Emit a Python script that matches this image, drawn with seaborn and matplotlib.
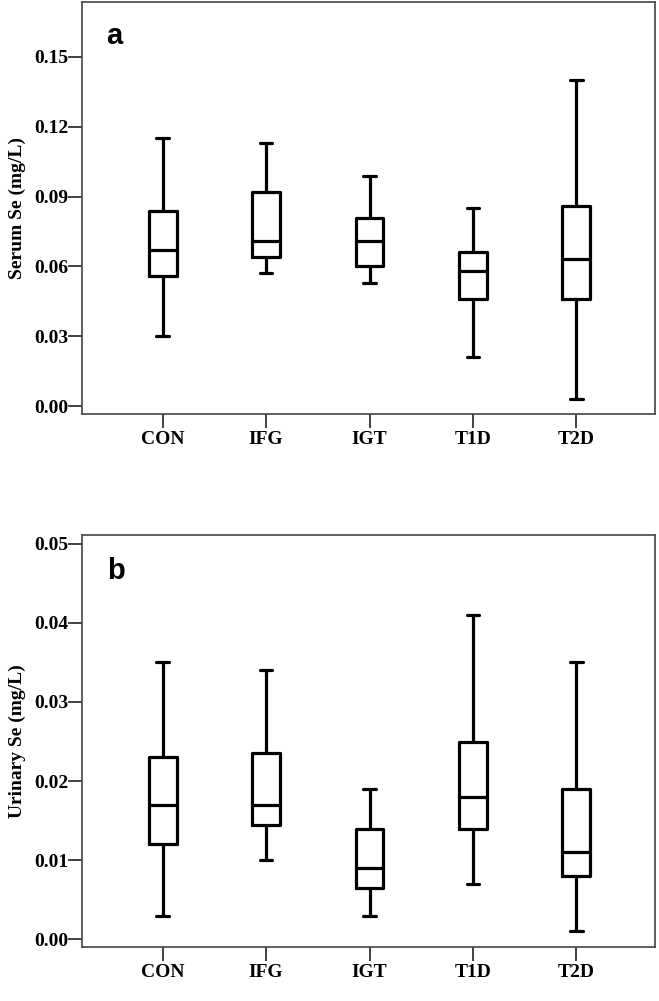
import numpy as np
import pandas as pd
import matplotlib
matplotlib.use("Agg")
import matplotlib.pyplot as plt
import seaborn as sns

groups = ["CON", "IFG", "IGT", "T1D", "T2D"]

# five-number summaries: min, Q1, median, Q3, max
serum_min = [0.030, 0.057, 0.053, 0.021, 0.003]
serum_q1 = [0.056, 0.064, 0.060, 0.046, 0.046]
serum_med = [0.067, 0.071, 0.071, 0.058, 0.063]
serum_q3 = [0.084, 0.092, 0.081, 0.066, 0.086]
serum_max = [0.115, 0.113, 0.099, 0.085, 0.140]

urine_min = [0.003, 0.010, 0.003, 0.007, 0.001]
urine_q1 = [0.012, 0.0145, 0.0065, 0.014, 0.008]
urine_med = [0.017, 0.017, 0.009, 0.018, 0.011]
urine_q3 = [0.023, 0.0235, 0.014, 0.025, 0.019]
urine_max = [0.035, 0.034, 0.019, 0.041, 0.035]

serum_ticks = [0.00, 0.03, 0.06, 0.09, 0.12, 0.15]
urine_ticks = [0.00, 0.01, 0.02, 0.03, 0.04, 0.05]


def summary_frame(mins, q1s, meds, q3s, maxs):
    # five points per group reproduce the quartiles exactly
    rows = []
    for g, a, b, c, d, e in zip(groups, mins, q1s, meds, q3s, maxs):
        for v in (a, b, c, d, e):
            rows.append({"group": g, "value": v})
    return pd.DataFrame(rows)


sns.set_style("white")
plt.rcParams["font.family"] = ["Liberation Serif", "DejaVu Serif"]

fig = plt.figure(figsize=(6.59, 10.01), dpi=100)
ax_a = fig.add_axes([0.1244, 0.5864, 0.8695, 0.4116])
ax_b = fig.add_axes([0.1244, 0.0539, 0.8695, 0.4116])

panels = [
    (ax_a, summary_frame(serum_min, serum_q1, serum_med, serum_q3, serum_max),
     "Serum Se (mg/L)", serum_ticks, (-0.00344, 0.1736), "a", 0.917),
    (ax_b, summary_frame(urine_min, urine_q1, urine_med, urine_q3, urine_max),
     "Urinary Se (mg/L)", urine_ticks, (-0.00097, 0.0511), "b", 0.913),
]

line = dict(color="black", linewidth=2.3)
for ax, df, ylabel, ticks, ylim, letter, ly in panels:
    sns.boxplot(data=df, x="group", y="value", order=groups, ax=ax,
                whis=(0, 100), width=0.27, fill=False, color="black",
                linewidth=2.3, showfliers=False, capwidths=0.12,
                boxprops=line, whiskerprops=line, capprops=line,
                medianprops=line)
    ax.set_xlim(-0.78, 4.76)
    ax.set_ylim(*ylim)
    ax.set_yticks(ticks)
    ax.set_yticklabels([f"{t:.2f}" for t in ticks])
    ax.set_xlabel("")
    ax.set_ylabel(ylabel, fontsize=14, fontweight="bold", labelpad=6,
                  color="black")
    ax.tick_params(axis="both", direction="out", length=10, width=1.3,
                   color="#333333", labelsize=14, labelcolor="black",
                   left=True, bottom=True)
    ax.tick_params(axis="y", pad=0)
    ax.tick_params(axis="x", pad=2)
    for lab in ax.get_xticklabels() + ax.get_yticklabels():
        lab.set_fontweight("bold")
    for side in ["left", "right", "top", "bottom"]:
        ax.spines[side].set_color("#444444")
        ax.spines[side].set_linewidth(1.2)
    ax.text(0.043, ly, letter, transform=ax.transAxes, fontsize=21,
            fontweight="bold", family=["Liberation Sans", "DejaVu Sans"],
            color="black", ha="left", va="center")

fig.savefig("out.png", dpi=100)
